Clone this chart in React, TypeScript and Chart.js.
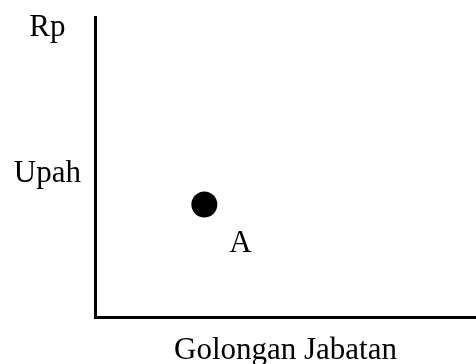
import React, { useEffect, useRef } from "react";
import { Chart, registerables } from "chart.js";

Chart.register(...registerables);

// Axis levels on the vertical (wage) axis and their names
const yTickValues = [4.76, 9.63];
const yTickLabels = ["Upah", "Rp"];

// Position A: job grade on x, wage on y
const pointX = [2.87];
const pointY = [3.75];
const pointLabels = ["A"];

const xAxisTitle = "Golongan Jabatan";

const FONT_FAMILY = "'Liberation Serif', 'Times New Roman', serif";

// Writes each point's name below and to the right of its marker
const pointNamePlugin = {
  id: "pointNames",
  afterDatasetsDraw(chart: any) {
    const meta = chart.getDatasetMeta(0);
    const ctx = chart.ctx;
    ctx.save();
    ctx.fillStyle = "#000";
    ctx.font = `31px ${FONT_FAMILY}`;
    ctx.textAlign = "center";
    ctx.textBaseline = "alphabetic";
    meta.data.forEach((el: any, i: number) => {
      ctx.fillText(pointLabels[i], el.x + 36, el.y + 47);
    });
    ctx.restore();
  },
};

export default function App() {
  const canvasRef = useRef<HTMLCanvasElement | null>(null);

  useEffect(() => {
    if (!canvasRef.current) return;
    const chart = new Chart(canvasRef.current, {
      type: "scatter",
      data: {
        datasets: [
          {
            data: pointX.map((x, i) => ({ x, y: pointY[i] })),
            backgroundColor: "#000",
            borderWidth: 0,
            pointRadius: 13,
            pointHoverRadius: 13,
          },
        ],
      },
      options: {
        animation: false,
        responsive: true,
        maintainAspectRatio: false,
        layout: {
          autoPadding: false,
          padding: { top: 17, right: 0, bottom: 0, left: 0 },
        },
        plugins: {
          legend: { display: false },
          tooltip: { enabled: false },
        },
        scales: {
          x: {
            type: "linear",
            min: 0,
            max: 10,
            grid: { display: false, drawTicks: false },
            border: { display: true, color: "#000", width: 3 },
            ticks: { display: false },
            title: {
              display: true,
              text: xAxisTitle,
              color: "#000",
              font: { family: FONT_FAMILY, size: 31, lineHeight: 0.8 },
              padding: { top: 21, bottom: 1 },
            },
            afterFit(scale: any) {
              scale.height = 47;
              scale.paddingLeft = 0;
              scale.paddingRight = 0;
            },
          },
          y: {
            type: "linear",
            min: 0,
            max: 10,
            grid: { display: false, drawTicks: false },
            border: { display: true, color: "#000", width: 3 },
            afterBuildTicks(scale: any) {
              scale.ticks = yTickValues.map((v) => ({ value: v }));
            },
            ticks: {
              color: "#000",
              crossAlign: "center",
              padding: 14,
              font: { family: FONT_FAMILY, size: 31, lineHeight: 1 },
              callback(value: any) {
                const idx = yTickValues.indexOf(Number(value));
                return idx >= 0 ? yTickLabels[idx] : "";
              },
            },
            afterFit(scale: any) {
              scale.width = 95;
              scale.paddingTop = 0;
              scale.paddingBottom = 0;
            },
          },
        },
      },
      plugins: [pointNamePlugin],
    });
    return () => chart.destroy();
  }, []);

  return (
    <div
      style={{
        position: "fixed",
        left: 0,
        top: 0,
        width: 476,
        height: 364,
        background: "#fff",
      }}
    >
      <canvas ref={canvasRef} />
    </div>
  );
}
